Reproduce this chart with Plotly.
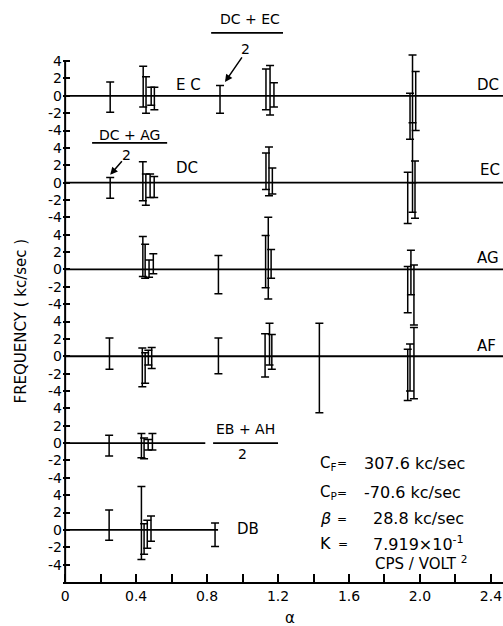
import plotly.graph_objects as go

# ---------------- data ----------------
# Panel 1 (left label EC, right label DC)
p1_alpha = [0.254, 0.440, 0.456, 0.485, 0.503, 0.873, 1.132, 1.155, 1.177, 1.944, 1.958, 1.976]
p1_hi = [1.6, 3.4, 2.2, 1.0, 1.0, 1.2, 3.1, 3.5, 1.5, 0.3, 4.7, 2.8]
p1_lo = [-1.9, -1.3, -2.0, -1.1, -1.6, -2.0, -1.6, -2.2, -1.3, -5.0, -3.1, -4.0]

# Panel 2 (left label DC, right label EC)
p2_alpha = [0.254, 0.438, 0.455, 0.479, 0.502, 1.132, 1.149, 1.168, 1.931, 1.958, 1.972]
p2_hi = [0.6, 2.4, 1.0, 1.0, 0.7, 3.4, 4.1, 1.7, 1.2, 0.0, 2.5]
p2_lo = [-1.8, -2.1, -2.6, -1.7, -1.7, -0.8, -1.5, -1.3, -4.7, -3.4, -4.1]

# Panel 3 (AG)
p3_alpha = [0.438, 0.451, 0.473, 0.497, 0.864, 1.130, 1.145, 1.161, 1.931, 1.949, 1.966]
p3_hi = [3.8, 2.9, 1.1, 1.8, 1.6, 3.9, 6.0, 2.3, 0.35, 2.2, 0.5]
p3_lo = [-0.8, -1.0, -0.9, -0.5, -2.8, -2.1, -3.4, -1.0, -5.0, -2.9, -6.4]

# Panel 4 (AF)
p4_alpha = [0.250, 0.435, 0.451, 0.469, 0.488, 0.864, 1.127, 1.152, 1.165, 1.433, 1.931, 1.944, 1.966]
p4_hi = [2.1, 0.95, 0.4, 0.7, 1.0, 2.1, 2.6, 3.8, 2.5, 3.8, 0.8, 1.4, 3.3]
p4_lo = [-1.5, -3.5, -3.1, -1.0, -1.4, -2.0, -2.4, -1.0, -1.5, -6.5, -5.1, -4.0, -4.9]

# Panel 5 ((EB+AH)/2)
p5_alpha = [0.248, 0.430, 0.445, 0.468, 0.492]
p5_hi = [0.9, 1.1, 0.6, 0.4, 1.1]
p5_lo = [-1.5, -1.7, -1.8, -0.8, -0.8]

# Panel 6 (DB)
p6_alpha = [0.248, 0.430, 0.445, 0.463, 0.484, 0.845]
p6_hi = [2.3, 5.0, 0.7, 1.1, 1.6, 0.8]
p6_lo = [-1.2, -3.4, -2.8, -2.1, -1.3, -1.9]

# zero-line extents (alpha) for each panel
baseline_end = [2.6, 2.6, 2.6, 2.6, 0.79, 0.862]

# connector line between panels 1 and 2 near alpha = 1.96
connector_alpha = 1.958
connector_from = -3.1   # panel 1 value
connector_to = 0.0      # panel 2 value

tick_values = [4, 2, 0, -2, -4]
x_major_vals = [0, 0.4, 0.8, 1.2, 1.6, 2.0, 2.4]
x_major_text = ["0", "0.4", "0.8", "1.2", "1.6", "2.0", "2.4"]
x_minor_vals = [0.2, 0.6, 1.0, 1.4, 1.8, 2.2]

# ---------------- figure ----------------
STEP = 10
FONT = "DejaVu Sans"
panels = [(p1_alpha, p1_hi, p1_lo), (p2_alpha, p2_hi, p2_lo), (p3_alpha, p3_hi, p3_lo),
          (p4_alpha, p4_hi, p4_lo), (p5_alpha, p5_hi, p5_lo), (p6_alpha, p6_hi, p6_lo)]
n = len(panels)

fig = go.Figure()

# y-axis line
fig.add_trace(go.Scatter(x=[0, 0], y=[-6, (n - 1) * STEP + 4], mode="lines",
                         line=dict(color="black", width=2), hoverinfo="skip", showlegend=False))

yt_vals, yt_text = [], []
for i, (a, hi, lo) in enumerate(panels):
    off = (n - 1 - i) * STEP
    fig.add_trace(go.Scatter(x=[0, baseline_end[i]], y=[off, off], mode="lines",
                             line=dict(color="black", width=1.8), hoverinfo="skip", showlegend=False))
    mid = [off + (h + l) / 2 for h, l in zip(hi, lo)]
    err = [(h - l) / 2 for h, l in zip(hi, lo)]
    fig.add_trace(go.Scatter(x=a, y=mid, mode="markers",
                             marker=dict(size=1, color="rgba(0,0,0,0)"),
                             error_y=dict(type="data", array=err, symmetric=True, color="black",
                                          thickness=1.5, width=4),
                             showlegend=False))
    for v in tick_values:
        yt_vals.append(off + v)
        yt_text.append(str(v))

fig.add_trace(go.Scatter(x=[connector_alpha, connector_alpha],
                         y=[(n - 1) * STEP + connector_from, (n - 2) * STEP + connector_to],
                         mode="lines", line=dict(color="black", width=1.5),
                         hoverinfo="skip", showlegend=False))

ann = []
def txt(x, y, s, size=15, xanchor="center", xref="x", yref="y", angle=0, yanchor="middle"):
    ann.append(dict(x=x, y=y, text=s, xref=xref, yref=yref, showarrow=False, xanchor=xanchor,
                    yanchor=yanchor, textangle=angle,
                    font=dict(family=FONT, size=size, color="black")))

# panel labels
txt(0.693, 51.3, "E C")
txt(2.383, 51.3, "DC")
txt(0.687, 41.7, "DC")
txt(2.394, 41.5, "EC")
txt(2.383, 31.3, "AG")
txt(2.377, 21.2, "AF")
txt(1.031, 0.1, "DB")

# fractions
txt(1.042, 58.8, "DC + EC", size=14)
txt(1.014, 55.4, "2", size=14)
txt(0.363, 45.5, "DC + AG", size=14)
txt(0.344, 43.2, "2", size=14)
txt(1.017, 11.6, "EB + AH", size=14)
txt(0.997, 8.8, "2", size=14)

shapes = [
    dict(type="line", xref="x", yref="y", x0=0.823, x1=1.228, y0=57.25, y1=57.25, line=dict(color="black", width=1.8)),
    dict(type="line", xref="x", yref="y", x0=0.152, x1=0.575, y0=44.57, y1=44.57, line=dict(color="black", width=1.8)),
    dict(type="line", xref="x", yref="y", x0=0.834, x1=1.200, y0=10.0, y1=10.0, line=dict(color="black", width=1.8)),
]

# arrows
ann.append(dict(x=0.901, y=51.6, xref="x", yref="y", ax=18, ay=-26, text="", showarrow=True,
                arrowhead=2, arrowsize=1, arrowwidth=1.5, arrowcolor="black"))
ann.append(dict(x=0.254, y=40.9, xref="x", yref="y", ax=13, ay=-15, text="", showarrow=True,
                arrowhead=2, arrowsize=1, arrowwidth=1.5, arrowcolor="black"))

# constants block
txt(1.425, 7.7, "C<sub>F</sub>", xanchor="left", size=15)
txt(1.560, 7.7, "=", size=12)
txt(1.673, 7.7, "307.6 kc/sec", xanchor="left", size=16)
txt(1.425, 4.3, "C<sub>P</sub>", xanchor="left", size=15)
txt(1.560, 4.3, "=", size=12)
txt(1.673, 4.3, "-70.6 kc/sec", xanchor="left", size=16)
txt(1.425, 1.3, "<i>β</i>", xanchor="left", size=16)
txt(1.560, 1.3, "=", size=12)
txt(1.724, 1.3, "28.8 kc/sec", xanchor="left", size=16)
txt(1.425, -1.6, "K", xanchor="left", size=16)
txt(1.566, -1.6, "=", size=12)
txt(1.724, -1.6, "7.919×10<sup>-1</sup>", xanchor="left", size=16)
txt(1.735, -3.8, "CPS / VOLT <sup>2</sup>", xanchor="left", size=15)

# axis titles
txt(-0.095, 0.455, "FREQUENCY ( kc/sec )", size=15, xref="paper", yref="paper", angle=-90)
txt(0.516, -0.043, "α", size=15, xref="paper", yref="paper", yanchor="top")

fig.update_layout(
    width=503, height=626,
    margin=dict(l=63, r=0, t=9, b=44),
    paper_bgcolor="white", plot_bgcolor="white",
    showlegend=False,
    annotations=ann, shapes=shapes,
    xaxis=dict(range=[-0.012, 2.468], showgrid=False, zeroline=False, showline=True,
               linecolor="black", linewidth=2, ticks="inside", ticklen=8, tickwidth=1.5,
               tickcolor="black", tickvals=x_major_vals, ticktext=x_major_text,
               tickfont=dict(family=FONT, size=14, color="black"),
               minor=dict(tickvals=x_minor_vals, ticks="inside", ticklen=8, tickwidth=1.5,
                          tickcolor="black", showgrid=False)),
    yaxis=dict(range=[-6, 60], showgrid=False, zeroline=False, showline=False,
               ticks="inside", ticklen=7, tickwidth=1.5, tickcolor="black",
               tickvals=yt_vals, ticktext=yt_text,
               tickfont=dict(family=FONT, size=14, color="black")),
)

fig.write_html("out.html")
